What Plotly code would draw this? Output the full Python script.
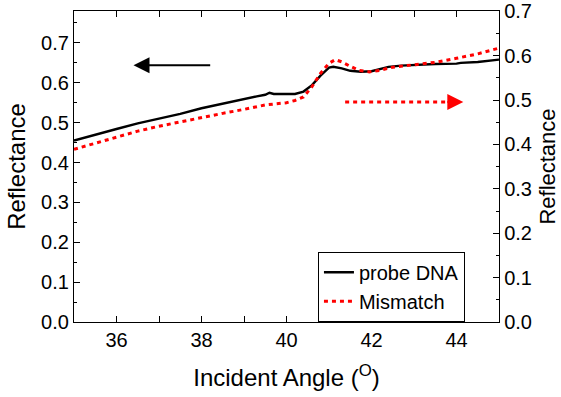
import plotly.graph_objects as go

# Data
angle_probe = [35.0, 35.5, 36.0, 36.5, 37.0, 37.5, 38.0, 38.5, 39.0, 39.3, 39.5, 39.6, 39.7,
               40.0, 40.2, 40.4, 40.6, 40.8, 41.0, 41.1, 41.3, 41.5, 41.75, 42.0, 42.2, 42.4,
               42.7, 43.0, 43.5, 44.0, 44.1, 44.5, 45.0]
refl_probe = [0.455, 0.470, 0.484, 0.498, 0.510, 0.522, 0.536, 0.548, 0.559, 0.566, 0.570, 0.575, 0.572,
              0.571, 0.572, 0.578, 0.594, 0.618, 0.638, 0.640, 0.636, 0.630, 0.6275, 0.629, 0.635, 0.640,
              0.643, 0.645, 0.647, 0.648, 0.650, 0.652, 0.658]

angle_mis = [35.0, 35.5, 36.0, 36.5, 37.0, 37.5, 38.0, 38.5, 39.0, 39.5, 40.0, 40.2, 40.4, 40.6,
             40.8, 41.0, 41.15, 41.3, 41.5, 41.7, 41.95, 42.2, 42.5, 43.0, 43.5, 44.0, 44.5, 45.0]
refl_mis = [0.389, 0.403, 0.417, 0.430, 0.441, 0.451, 0.461, 0.470, 0.479, 0.489, 0.494, 0.499, 0.507, 0.530,
            0.560, 0.583, 0.591, 0.586, 0.576, 0.567, 0.5635, 0.567, 0.574, 0.579, 0.585, 0.594, 0.604, 0.617]

x_ticks = [36, 38, 40, 42, 44]
y_left_ticks = [0.0, 0.1, 0.2, 0.3, 0.4, 0.5, 0.6, 0.7]
y_right_ticks = [0.0, 0.1, 0.2, 0.3, 0.4, 0.5, 0.6, 0.7]

FONT = "Liberation Sans, Arial, sans-serif"

fig = go.Figure()
fig.add_trace(go.Scatter(x=angle_probe, y=refl_probe, mode="lines", name="probe DNA",
                         line=dict(color="black", width=2.4), yaxis="y"))
fig.add_trace(go.Scatter(x=angle_mis, y=refl_mis, mode="lines", name="Mismatch",
                         line=dict(color="#ff0000", width=3, dash="4px,4px"), yaxis="y2"))

axis_common = dict(showline=True, linecolor="black", linewidth=1.3, ticks="inside",
                   tickcolor="black", tickwidth=1.3, ticklen=6, showgrid=False, zeroline=False,
                   automargin=False, ticklabeloverflow="allow",
                   tickfont=dict(size=20, color="black", family=FONT))
minor_style = dict(ticks="inside", ticklen=3, tickcolor="black", tickwidth=1)

fig.update_layout(
    width=561, height=397,
    margin=dict(l=74, r=62, t=11, b=75, autoexpand=False),
    paper_bgcolor="white", plot_bgcolor="white",
    font=dict(family=FONT, color="black"),
    xaxis=dict(range=[35, 45], tickvals=x_ticks, mirror="allticks",
               title=dict(text="Incident Angle (<sup>O</sup>)", font=dict(size=24), standoff=19),
               minor=dict(dtick=1, **minor_style), **axis_common),
    yaxis=dict(range=[0, 0.78], tickvals=y_left_ticks, tickformat=".1f",
               title=dict(text="Reflectance", font=dict(size=24), standoff=8),
               minor=dict(dtick=0.05, **minor_style), **axis_common),
    yaxis2=dict(range=[0, 0.7006], tickvals=y_right_ticks, tickformat=".1f", overlaying="y", side="right",
                title=dict(text="Reflectance", font=dict(size=22), standoff=8),
                minor=dict(dtick=0.05, **minor_style), **axis_common),
    legend=dict(x=0.574, y=0.226, xanchor="left", yanchor="top", bordercolor="black", borderwidth=1,
                bgcolor="white", font=dict(size=20, color="black"), tracegroupgap=0,
                itemwidth=30),
    showlegend=True,
)

# Left-pointing black arrow (belongs to left axis)
fig.add_annotation(x=36.4, y=0.644, xref="x", yref="y", ax=38.24, ay=0.644, axref="x", ayref="y",
                   text="", showarrow=True, arrowhead=2, arrowsize=1.6, arrowwidth=2, arrowcolor="black")

# Right-pointing red dotted arrow (belongs to right axis)
fig.add_shape(type="line", x0=41.38, x1=43.75, y0=0.4955, y1=0.4955, xref="x", yref="y2",
              line=dict(color="#ff0000", width=3, dash="4px,4px"))
fig.add_annotation(x=44.16, y=0.4955, xref="x", yref="y2", ax=43.75, ay=0.4955, axref="x", ayref="y2",
                   text="", showarrow=True, arrowhead=2, arrowsize=1.6, arrowwidth=2, arrowcolor="#ff0000")

# Remove the default 8px page margin so the figure fills the window exactly.
fig.write_html("out.html", config={"displayModeBar": False},
               post_script="document.body.style.margin='0';")
